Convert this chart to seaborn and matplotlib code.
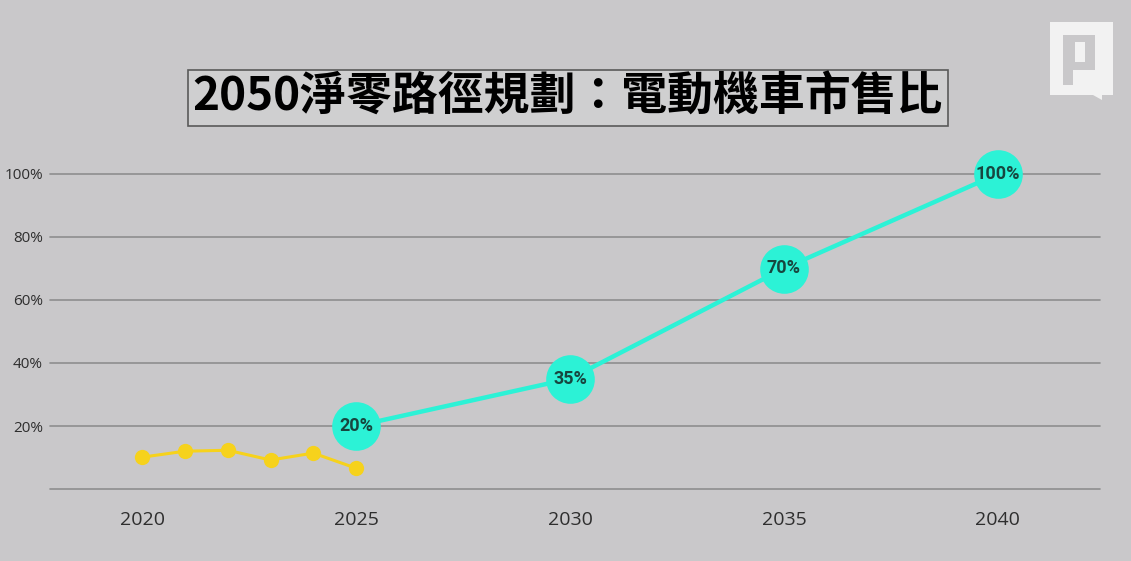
import numpy as np
import pandas as pd
import matplotlib
matplotlib.use("Agg")
import matplotlib.pyplot as plt
import matplotlib.patches as mpatches
import seaborn as sns

# data
hist_years = [2020, 2021, 2022, 2023, 2024, 2025]
hist_share = [0.101, 0.120, 0.123, 0.092, 0.114, 0.066]

target_years = [2025, 2030, 2035, 2040]
target_share = [0.20, 0.35, 0.70, 1.00]
target_labels = ["20%", "35%", "70%", "100%"]

y_ticks = [0.2, 0.4, 0.6, 0.8, 1.0]
x_ticks = [2020, 2025, 2030, 2035, 2040]

title = "2050淨零路徑規劃：電動機車市售比"

bg = "#c9c8ca"
teal = "#2cf2d6"
yellow = "#f6d21c"

sns.set_theme(style="white")
plt.rcParams["font.family"] = ["Noto Sans CJK TC", "DejaVu Sans"]

fig = plt.figure(figsize=(11.31, 5.61), dpi=100, facecolor=bg)
W, H = 1131, 561
# axes: x from px 50 to 1100, y=0 at px 489, y=1 at px 174
ax = fig.add_axes([50 / W, (H - 489) / H, 1050 / W, (489 - 174) / H])
ax.set_facecolor(bg)

x_left = 2020 - (142 - 50) / 42.7
x_right = 2040 + (1100 - 998) / 42.7
ax.set_xlim(x_left, x_right)
ax.set_ylim(0, 1.0)

for v in [0] + y_ticks:
    ax.axhline(v, color="#8e8e8e", lw=1.2, zorder=1, clip_on=False)

hist = pd.DataFrame({"year": hist_years, "share": hist_share})
target = pd.DataFrame({"year": target_years, "share": target_share})

sns.lineplot(data=hist, x="year", y="share", color=yellow, lw=2.2,
             marker="o", markersize=11, markeredgewidth=0, ax=ax, zorder=3,
             clip_on=False)
sns.lineplot(data=target, x="year", y="share", color=teal, lw=3.2,
             marker="o", markersize=35, markeredgewidth=0, ax=ax, zorder=4,
             clip_on=False)

for xv, yv, lab in zip(target_years, target_share, target_labels):
    ax.text(xv, yv, lab, ha="center", va="center", fontsize=13,
            fontweight="bold", color="#17463f", zorder=5,
            fontstretch="condensed", family=["Roboto", "DejaVu Sans"])

ax.set_xticks(x_ticks)
ax.set_xticklabels([str(x) for x in x_ticks], fontsize=14, color="#2e2e2e",
                   family=["Open Sans", "DejaVu Sans"])
ax.set_yticks(y_ticks)
ax.set_yticklabels([f"{int(v * 100)}%" for v in y_ticks], fontsize=11,
                   color="#2e2e2e", family=["Open Sans", "DejaVu Sans"])
ax.tick_params(axis="x", length=0, pad=16)
ax.tick_params(axis="y", length=0, pad=5)
ax.set_xlabel("")
ax.set_ylabel("")
sns.despine(ax=ax, left=True, bottom=True, top=True, right=True)

# title in a box
fig.text(568 / W, 1 - 98 / H, title, ha="center", va="center", fontsize=33,
         fontweight="black", color="black",
         bbox=dict(boxstyle="square,pad=0.1", facecolor="#cfcfd0",
                   edgecolor="#5a5a5a", lw=1.2))

# logo (white bubble with P)
lx, ly = 1050 / W, 1 - 95 / H
sq = mpatches.Polygon([[lx, ly], [lx, 1 - 22 / H], [1113 / W, 1 - 22 / H],
                       [1113 / W, ly], [1102 / W, ly], [1102 / W, 1 - 100 / H],
                       [1093 / W, ly]],
                      closed=True, transform=fig.transFigure,
                      facecolor="#f2f2f2", edgecolor="none")
fig.patches.append(sq)
fig.patches.append(mpatches.Rectangle((1063 / W, 1 - 85 / H), 10 / W, 50 / H,
                                      transform=fig.transFigure,
                                      facecolor=bg, edgecolor="none"))
fig.patches.append(mpatches.Rectangle((1063 / W, 1 - 70 / H), 32 / W, 35 / H,
                                      transform=fig.transFigure,
                                      facecolor=bg, edgecolor="none"))
fig.patches.append(mpatches.Rectangle((1075 / W, 1 - 62 / H), 10 / W, 20 / H,
                                      transform=fig.transFigure,
                                      facecolor="#f2f2f2", edgecolor="none"))

fig.savefig("out.png", dpi=100, facecolor=bg)
